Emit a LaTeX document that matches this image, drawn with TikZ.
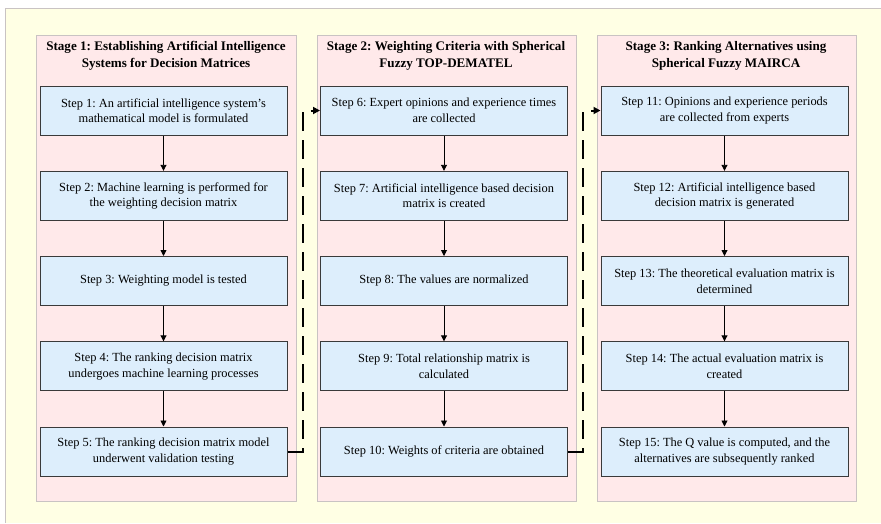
\documentclass[tikz,border=0pt]{standalone}
\usepackage{fontspec}
\setmainfont{Liberation Serif}
\frenchspacing
\usetikzlibrary{arrows.meta,calc}
\definecolor{bgyellow}{HTML}{FFFFE4}
\definecolor{panelpink}{HTML}{FFE9EA}
\definecolor{panelline}{HTML}{C9C3C3}
\definecolor{boxblue}{HTML}{DDEEFC}
\definecolor{boxline}{HTML}{3A3A3A}
\begin{document}
\begin{tikzpicture}[x=1pt,y=-1pt,
  panel/.style={fill=panelpink,draw=panelline,line width=1pt},
  stepbox/.style={rectangle,draw=boxline,fill=boxblue,line width=1pt,minimum width=247pt,minimum height=49pt,align=center,inner sep=2pt,font=\fontsize{12.4}{15.6}\selectfont},
  stagetitle/.style={align=center,font=\fontsize{13.1}{16.6}\selectfont\bfseries},
  flow/.style={line width=0.9pt,-{Triangle[length=6pt,width=6pt]}},
  stagelink/.style={line width=2pt,dash pattern=on 19pt off 9pt,-{Triangle[length=7pt,width=7pt]}}
]
\useasboundingbox (0,0) rectangle (881,523);
\fill[white] (0,0) rectangle (881,523);
\fill[bgyellow] (5,8) rectangle (881,523);
\draw[panelline,line width=1pt] (5,523) -- (5,8) -- (881,8);
% panels
\draw[panel] (36,35) rectangle (296,501);
\draw[panel] (317,35) rectangle (576,501);
\draw[panel] (597,35) rectangle (856,501);
% titles
\node[stagetitle] (t1) at (166,56) {Stage 1: Establishing Artificial Intelligence\\Systems for Decision Matrices};
\node[stagetitle] (t2) at (446,56) {Stage 2: Weighting Criteria with Spherical\\Fuzzy TOP-DEMATEL};
\node[stagetitle] (t3) at (726,56) {Stage 3: Ranking Alternatives using\\Spherical Fuzzy MAIRCA};
% stage 1
\node[stepbox] (s1) at (163.5,110.5) {Step 1: An artificial intelligence system's\\mathematical model is formulated};
\node[stepbox] (s2) at (163.5,195.8) {Step 2: Machine learning is performed for\\the weighting decision matrix};
\node[stepbox] (s3) at (163.5,281) {Step 3: Weighting model is tested};
\node[stepbox] (s4) at (163.5,366.3) {Step 4: The ranking decision matrix\\undergoes machine learning processes};
\node[stepbox] (s5) at (163.5,451.5) {Step 5: The ranking decision matrix model\\underwent validation testing};
% stage 2
\node[stepbox] (s6) at (444,110.5) {Step 6: Expert opinions and experience times\\are collected};
\node[stepbox] (s7) at (444,195.8) {Step 7: Artificial intelligence based decision\\matrix is created};
\node[stepbox] (s8) at (444,281) {Step 8: The values are normalized};
\node[stepbox] (s9) at (444,366.3) {Step 9: Total relationship matrix is\\calculated};
\node[stepbox] (s10) at (444,451.5) {Step 10: Weights of criteria are obtained};
% stage 3
\node[stepbox] (s11) at (724.5,110.5) {Step 11: Opinions and experience periods\\are collected from experts};
\node[stepbox] (s12) at (724.5,195.8) {Step 12: Artificial intelligence based\\decision matrix is generated};
\node[stepbox] (s13) at (724.5,281) {Step 13: The theoretical evaluation matrix is\\determined};
\node[stepbox] (s14) at (724.5,366.3) {Step 14: The actual evaluation matrix is\\created};
\node[stepbox] (s15) at (724.5,451.5) {Step 15: The Q value is computed, and the\\alternatives are subsequently ranked};
% flows
\foreach \a/\b in {s1/s2,s2/s3,s3/s4,s4/s5,s6/s7,s7/s8,s8/s9,s9/s10,s11/s12,s12/s13,s13/s14,s14/s15}
  \draw[flow] (\a.south) -- (\b.north);
% stage links
\draw[stagelink] (s5.east) -- ++(15,0) |- (s6.west);
\draw[stagelink] (s10.east) -- ++(15,0) |- (s11.west);
\end{tikzpicture}
\end{document}
